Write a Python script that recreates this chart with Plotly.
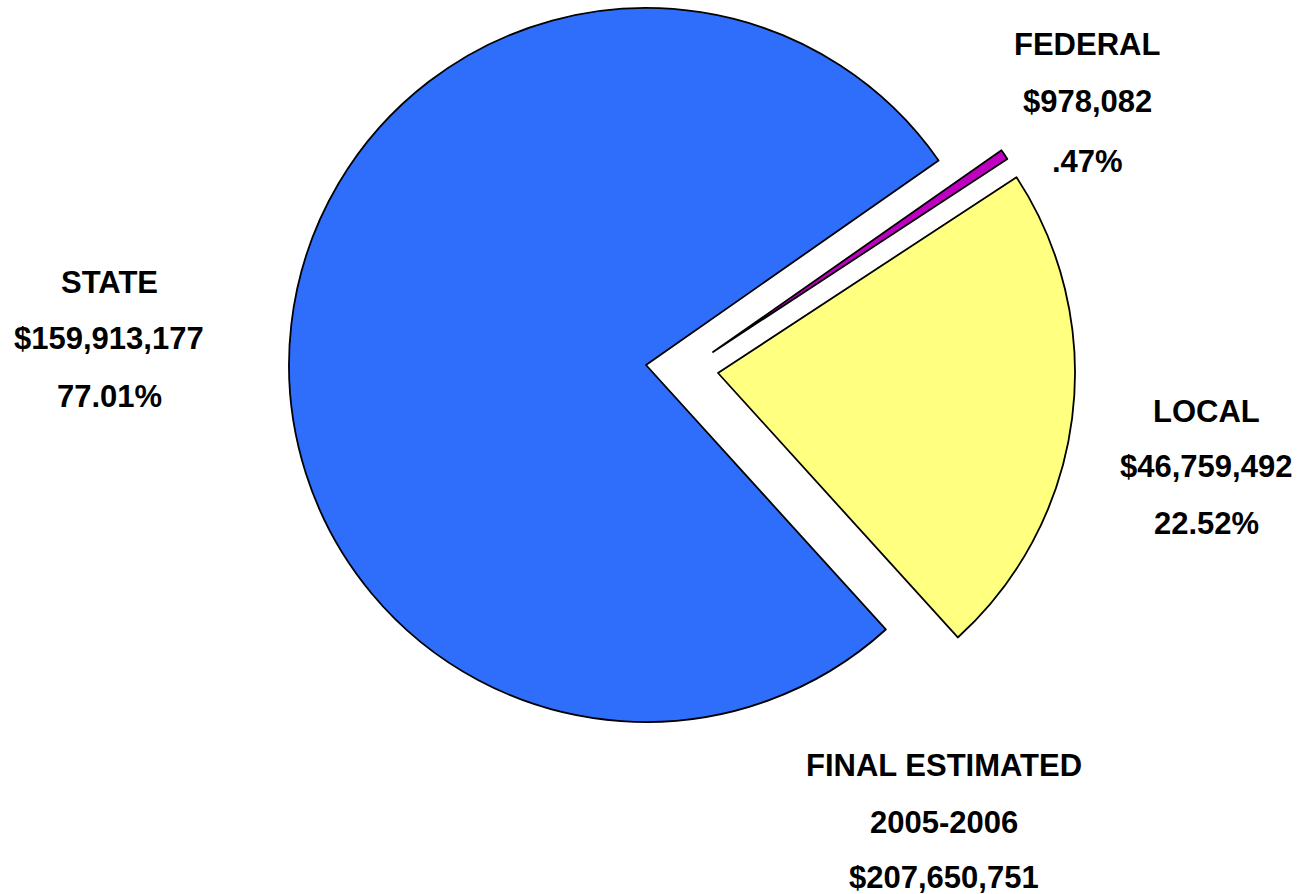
import plotly.graph_objects as go

# Revenue sources, final estimate 2005-2006
labels = ["STATE", "FEDERAL", "LOCAL"]
values = [159913177, 978082, 46759492]
colors = ["#2E6EFA", "#C000C0", "#FFFF80"]
period = "2005-2006"
heading = "FINAL ESTIMATED"

W, H = 1299, 894
ROTATION = 137.8  # clockwise from 12 o'clock where the STATE slice begins

# centre (px) and radius of each wedge; FEDERAL and LOCAL are exploded outward
centres = {"STATE": (646, 365, 357), "FEDERAL": (713, 352, 352), "LOCAL": (718, 373, 357)}

total = sum(values)


def pct_text(v):
    s = f"{v / total * 100:.2f}%"
    return s[1:] if s.startswith("0.") else s


def domain_for(cx, cy, r):
    return dict(x=[(cx - r) / W, (cx + r) / W], y=[(H - cy - r) / H, (H - cy + r) / H])


fig = go.Figure()
for i, name in enumerate(labels):
    cx, cy, r = centres[name]
    fill = [c if j == i else "rgba(0,0,0,0)" for j, c in enumerate(colors)]
    widths = [1.8 if j == i else 0 for j in range(len(labels))]
    fig.add_trace(go.Pie(
        labels=labels,
        values=values,
        sort=False,
        direction="clockwise",
        rotation=ROTATION,
        marker=dict(colors=fill, line=dict(color="black", width=widths)),
        textinfo="none",
        hoverinfo="skip",
        showlegend=False,
        domain=domain_for(cx, cy, r),
    ))

font = dict(family="Liberation Sans, Arial, sans-serif", size=31, color="black")

# label blocks: centre x and line centres y (px)
blocks = [
    (109, [282, 339, 396], [labels[0], f"${values[0]:,}", pct_text(values[0])]),
    (1087, [45, 102, 162], [labels[1], f"${values[1]:,}", pct_text(values[1])]),
    (1206, [411, 466, 523], [labels[2], f"${values[2]:,}", pct_text(values[2])]),
    (944, [765, 822, 877], [heading, period, f"${total:,}"]),
]
for x, ys, lines in blocks:
    for y, t in zip(ys, lines):
        fig.add_annotation(
            x=x / W, y=1 - y / H, xref="paper", yref="paper",
            text=f"<b>{t}</b>", showarrow=False, font=font,
            xanchor="center", yanchor="middle", borderpad=0,
        )

fig.update_layout(
    width=W, height=H,
    margin=dict(l=0, r=0, t=0, b=0),
    paper_bgcolor="white",
    plot_bgcolor="white",
)
fig.write_html("out.html")
